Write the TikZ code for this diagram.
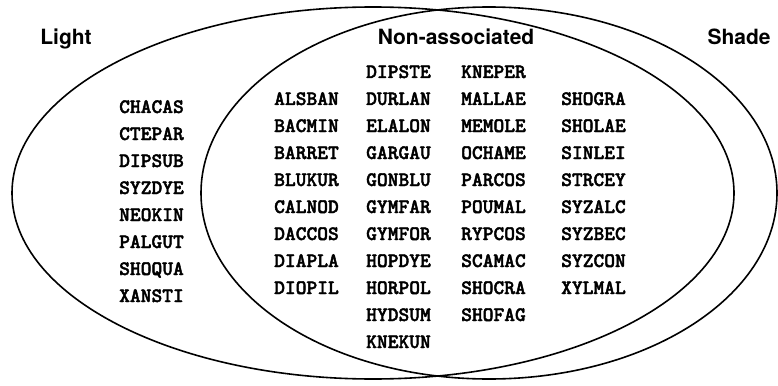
\documentclass[tikz,border=0pt]{standalone}
\usepackage{fontspec}
\setmainfont{TeX Gyre Heros}
\newfontfamily\codefont{lmmonolt10-bold.otf}[FakeBold=2]
\tikzset{
  setline/.style={line width=1.6pt, black},
  setlabel/.style={font=\fontsize{21}{24}\selectfont\bfseries, anchor=base, inner sep=0pt},
  codeword/.style={font=\codefont\fontsize{20.5}{22}\selectfont, anchor=base west, inner sep=0pt}
}
\begin{document}
\begin{tikzpicture}[x=1pt,y=-1pt]
\useasboundingbox (0,0) rectangle (778,385);
\draw[setline] (373,193) ellipse [x radius=361, y radius=186];
\draw[setline] (489,193) ellipse [x radius=288, y radius=186];
\node[setlabel] (light) at (66,45) {Light};
\node[setlabel] (nonassoc) at (456,45) {Non-associated};
\node[setlabel] (shade) at (739,45) {Shade};
% Light only
\foreach \w [count=\i] in {CHACAS,CTEPAR,DIPSUB,SYZDYE,NEOKIN,PALGUT,SHOQUA,XANSTI}
  \node[codeword] (L\i) at (119,{113+(\i-1)*27}) {\w};
% Non-associated column 1
\foreach \w [count=\i] in {ALSBAN,BACMIN,BARRET,BLUKUR,CALNOD,DACCOS,DIAPLA,DIOPIL}
  \node[codeword] (A\i) at (274,{105+(\i-1)*27}) {\w};
% column 2
\foreach \w [count=\i] in {DIPSTE,DURLAN,ELALON,GARGAU,GONBLU,GYMFAR,GYMFOR,HOPDYE,HORPOL,HYDSUM,KNEKUN}
  \node[codeword] (B\i) at (366,{78+(\i-1)*27}) {\w};
% column 3
\foreach \w [count=\i] in {KNEPER,MALLAE,MEMOLE,OCHAME,PARCOS,POUMAL,RYPCOS,SCAMAC,SHOCRA,SHOFAG}
  \node[codeword] (C\i) at (461,{78+(\i-1)*27}) {\w};
% column 4
\foreach \w [count=\i] in {SHOGRA,SHOLAE,SINLEI,STRCEY,SYZALC,SYZBEC,SYZCON,XYLMAL}
  \node[codeword] (D\i) at (561,{105+(\i-1)*27}) {\w};
\end{tikzpicture}
\end{document}
